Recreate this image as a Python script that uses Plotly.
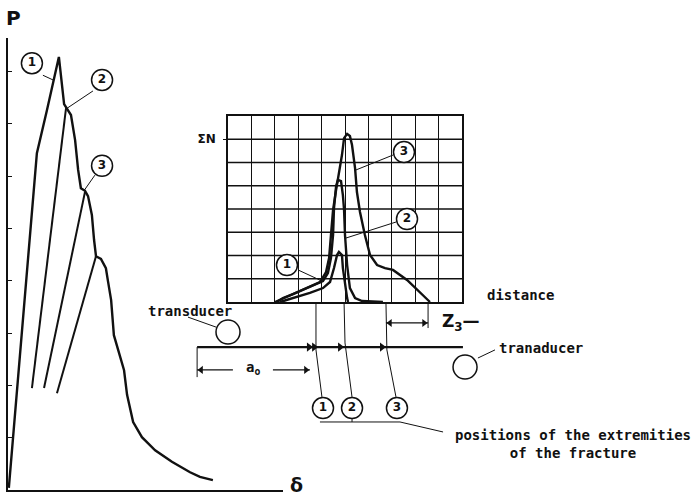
import plotly.graph_objects as go

# ---------------- Load (P) - displacement (delta) curve, arbitrary units ----------------
delta_main = [0.3, 8.0, 10.5, 14.2, 18.5, 20.4, 21.1, 22.9, 24.4, 25.5, 26.5, 28.0, 29.1, 30.5,
              31.3, 32.0, 33.8, 35.6, 36.4, 37.5, 38.5, 40.7, 42.2, 43.3, 45.5, 48.7, 53.5,
              59.6, 66.2, 69.8, 74.5]
P_main = [0.4, 47.8, 64.4, 72.7, 82.8, 73.8, 73.2, 71.7, 66.9, 61.2, 57.7, 57.2, 56.2, 52.6,
          47.8, 44.7, 44.2, 42.4, 39.8, 36.3, 29.6, 25.8, 22.9, 18.2, 13.0, 10.1, 7.6,
          5.4, 3.4, 2.5, 1.9]
reload_delta = [[8.7, 21.1], [13.1, 28.0], [17.8, 32.0]]
reload_P = [[19.5, 73.0], [19.5, 57.0], [18.5, 44.7]]
P_ticks = [10, 20, 30, 40, 50, 60, 70, 80]
load_labels = ["1", "2", "3"]
load_label_delta = [8.7, 34.2, 34.2]
load_label_P = [81.6, 78.4, 62.0]
load_leader_delta = [[12.7, 16.4], [30.9, 21.5], [31.6, 27.6]]
load_leader_P = [[79.3, 78.4], [76.3, 73.0], [60.2, 57.2]]

# ---------------- Cumulative counts vs distance (grid units) ----------------
curve1_x = [2.22, 2.52, 2.95, 3.50, 4.06, 4.36, 4.53, 4.66, 4.74, 4.87, 4.91, 5.00, 5.09, 5.13]
curve1_y = [0, 0.09, 0.22, 0.39, 0.60, 0.86, 1.46, 2.02, 2.15, 2.02, 1.46, 0.73, 0.17, 0]
curve2_x = [2.09, 2.35, 2.78, 3.21, 3.63, 4.06, 4.27, 4.40, 4.49, 4.53, 4.62, 4.70, 4.83,
            4.91, 4.96, 5.00, 5.09, 5.21, 5.43, 5.73, 6.62]
curve2_y = [0, 0.17, 0.34, 0.52, 0.69, 0.90, 1.25, 1.89, 2.88, 4.04, 4.99, 5.25, 5.20,
            4.60, 3.96, 2.88, 1.59, 0.60, 0.17, 0.04, 0]
curve3_x = [2.01, 2.31, 2.65, 3.08, 3.50, 3.93, 4.19, 4.32, 4.40, 4.49, 4.62, 4.74, 4.87,
            4.96, 5.09, 5.21, 5.30, 5.43, 5.51, 5.64, 5.85, 6.07, 6.37, 6.71, 7.05, 7.65,
            8.21, 8.63]
curve3_y = [0, 0.13, 0.30, 0.47, 0.65, 0.86, 1.29, 1.89, 2.88, 3.96, 4.82, 5.46, 6.32,
            7.05, 7.23, 7.14, 6.75, 5.76, 4.73, 3.87, 2.88, 2.02, 1.59, 1.46, 1.38, 0.95,
            0.39, 0]
grid_cols = 10
grid_rows = 8
sigmaN_row = 7
grid_label_x = [2.52, 7.65, 7.52]
grid_label_y = [1.59, 3.57, 6.45]
grid_leader_x = [[2.99, 4.02], [7.18, 5.04], [7.05, 5.47]]
grid_leader_y = [[1.38, 0.90], [3.44, 2.75], [6.32, 5.68]]

# ---------------- Specimen schematic (same distance units) ----------------
specimen_u = [-1.32, 10.04]
specimen_v = -1.94
arrow_u = [3.46, 3.68, 4.79, 6.58]
crack_u = [[3.76, 3.76, 4.02], [4.96, 5.00, 5.30], [6.75, 6.79, 7.18]]
crack_v = [[0, -2.06, -4.13], [0, -1.76, -4.09], [0, -2.06, -4.09]]
crack_label_u = [4.06, 5.30, 7.22]
crack_label_v = -4.56
bracket_u = [3.93, 7.35, 9.19]
bracket_v = [-5.16, -5.16, -5.59]
bracket_tick_u = [5.30, 5.30]
bracket_tick_v = [-4.99, -5.16]
z3_line_u = [8.55, 8.55]
z3_line_v = [0, -1.12]
z3_v = -0.90
z3_u = [6.75, 8.55]
a0_tick_u = [-1.32, -1.32]
a0_tick_v = [-1.94, -3.23]
a0_v = -2.92
a0_seg1_u = [-1.32, 0.21]
a0_seg2_u = [1.92, 3.50]
transducer_u = [0.0, 10.13]
transducer_v = [-1.29, -2.80]
tr_leader_left_u = [-1.71, -0.51]
tr_leader_left_v = [-0.65, -1.08]
tr_leader_right_u = [11.41, 10.68]
tr_leader_right_v = [-2.06, -2.41]

W, H = 694, 495
FONT = "DejaVu Sans"
MONO = "DejaVu Sans Mono"
BLACK = "#111111"

fig = go.Figure()

def line(x, y, xa, ya, width=2.2):
    fig.add_trace(go.Scatter(x=x, y=y, mode="lines", xaxis=xa, yaxis=ya,
                             line=dict(color=BLACK, width=width),
                             hoverinfo="skip", showlegend=False))

def circles(x, y, texts, xa, ya, size=21, fs=12):
    fig.add_trace(go.Scatter(x=x, y=y, mode="markers+text" if texts else "markers",
                             text=texts, textposition="middle center",
                             textfont=dict(family=FONT, size=fs, color=BLACK, weight="bold"),
                             marker=dict(symbol="circle", size=size, color="white",
                                         line=dict(color=BLACK, width=1.5)),
                             xaxis=xa, yaxis=ya, cliponaxis=False,
                             hoverinfo="skip", showlegend=False))

def heads(x, y, symbol, xa="x3", ya="y3", size=8):
    fig.add_trace(go.Scatter(x=x, y=y, mode="markers", xaxis=xa, yaxis=ya,
                             marker=dict(symbol=symbol, size=size, color=BLACK),
                             cliponaxis=False, hoverinfo="skip", showlegend=False))

# --- P-delta panel
line(delta_main, P_main, "x", "y", 2.4)
for dx, py in zip(reload_delta, reload_P):
    line(dx, py, "x", "y", 2.0)
for dx, py in zip(load_leader_delta, load_leader_P):
    line(dx, py, "x", "y", 1.0)
circles(load_label_delta, load_label_P, load_labels, "x", "y")

# --- grid panel (grid lines from xaxis2/yaxis2, curves on overlay axes in same units)
fig.add_trace(go.Scatter(x=[0, grid_cols], y=[0, grid_rows], mode="markers",
                         marker=dict(opacity=0), xaxis="x2", yaxis="y2",
                         hoverinfo="skip", showlegend=False))
line(curve1_x, curve1_y, "x3", "y3", 2.4)
line(curve2_x, curve2_y, "x3", "y3", 2.4)
line(curve3_x, curve3_y, "x3", "y3", 2.4)
for gx, gy in zip(grid_leader_x, grid_leader_y):
    line(gx, gy, "x3", "y3", 1.0)
circles(grid_label_x, grid_label_y, ["1", "2", "3"], "x3", "y3")

# --- specimen schematic
line(specimen_u, [specimen_v, specimen_v], "x3", "y3", 2.2)
heads(arrow_u, [specimen_v] * len(arrow_u), "triangle-right")
for cu, cv in zip(crack_u, crack_v):
    line(cu, cv, "x3", "y3", 1.0)
line(bracket_u, bracket_v, "x3", "y3", 1.0)
line(bracket_tick_u, bracket_tick_v, "x3", "y3", 1.0)
line(z3_line_u, z3_line_v, "x3", "y3", 1.0)
line(z3_u, [z3_v, z3_v], "x3", "y3", 1.2)
heads([z3_u[0] + 0.17], [z3_v], "triangle-left", size=7)
heads([z3_u[1] - 0.17], [z3_v], "triangle-right", size=7)
line(a0_tick_u, a0_tick_v, "x3", "y3", 1.0)
line(a0_seg1_u, [a0_v, a0_v], "x3", "y3", 1.2)
line(a0_seg2_u, [a0_v, a0_v], "x3", "y3", 1.2)
heads([a0_seg1_u[0] + 0.17], [a0_v], "triangle-left", size=7)
heads([a0_seg2_u[1] - 0.17], [a0_v], "triangle-right", size=7)
line(tr_leader_left_u, tr_leader_left_v, "x3", "y3", 1.0)
line(tr_leader_right_u, tr_leader_right_v, "x3", "y3", 1.0)
circles(transducer_u, transducer_v, None, "x3", "y3", size=24)
circles(crack_label_u, [crack_label_v] * 3, ["1", "2", "3"], "x3", "y3")

# --- axes
px_per_u = (462 - 228) / grid_cols
px_per_v = (302 - 116) / grid_rows
fig.update_layout(
    width=W, height=H, margin=dict(l=0, r=0, t=0, b=0),
    paper_bgcolor="white", plot_bgcolor="rgba(0,0,0,0)",
    showlegend=False,
    font=dict(family=FONT, color=BLACK),
    xaxis=dict(domain=[8 / W, 283 / W], range=[0, 100], showgrid=False, zeroline=False,
               showline=True, linecolor=BLACK, linewidth=2, showticklabels=False, ticks=""),
    yaxis=dict(domain=[1 - 490 / H, 1 - 38 / H], range=[0, 452 / 5.23], showgrid=False,
               zeroline=False, showline=True, linecolor=BLACK, linewidth=2,
               tickmode="array", tickvals=P_ticks, ticks="inside", ticklen=4,
               tickcolor=BLACK, showticklabels=False),
    xaxis2=dict(domain=[228 / W, 462 / W], range=[0, grid_cols], anchor="y2",
                tickmode="linear", tick0=0, dtick=1, showgrid=True, gridcolor=BLACK,
                gridwidth=1.3, zeroline=False, showline=True, mirror=True,
                linecolor=BLACK, linewidth=1.5, showticklabels=False, ticks=""),
    yaxis2=dict(domain=[1 - 302 / H, 1 - 116 / H], range=[0, grid_rows], anchor="x2",
                tickmode="array", tickvals=[sigmaN_row], ticktext=["ΣN"],
                showgrid=False, zeroline=False,
                showline=True, mirror=True, linecolor=BLACK, linewidth=1.5,
                ticks="outside", ticklen=3, tickcolor=BLACK, ticklabelstandoff=5,
                tickfont=dict(family=FONT, size=12, color=BLACK, weight="bold")),
    xaxis3=dict(domain=[0, 1], range=[-228 / px_per_u, (W - 228) / px_per_u],
                anchor="y3", visible=False),
    yaxis3=dict(domain=[0, 1], range=[(302 - H) / px_per_v, 302 / px_per_v],
                anchor="x3", visible=False),
)
# horizontal grid lines of the ΣN grid (drawn on the grid's own axes)
for r in range(1, grid_rows):
    fig.add_shape(type="line", xref="x2", yref="y2", x0=0, x1=grid_cols, y0=r, y1=r,
                  line=dict(color=BLACK, width=1.3), layer="below")

def note(text, x, y, xref="x3", yref="y3", size=14, xanchor="center", align="center",
         family=MONO):
    fig.add_annotation(text=text, x=x, y=y, xref=xref, yref=yref, showarrow=False,
                       xanchor=xanchor, yanchor="middle", align=align,
                       font=dict(family=family, size=size, color=BLACK, weight="bold"))

note("P", -9.15, 12.22, size=20, family=FONT)
note("δ", 2.91, -7.85, size=19, family=FONT)
note("distance", 12.52, 0.30, size=14)
note("transducer", -1.62, -0.39, size=14)
note("tranaducer", 11.50, -1.98, size=14, xanchor="left")
note("a<sub>o</sub>", 1.07, -2.85, size=14)
note("Z<sub>3</sub>—", 9.06, -0.86, size=17, xanchor="left", family=FONT)
note("positions of the extremities<br>of the fracture", 14.74, -6.1, size=14)

fig.write_html("out.html")
